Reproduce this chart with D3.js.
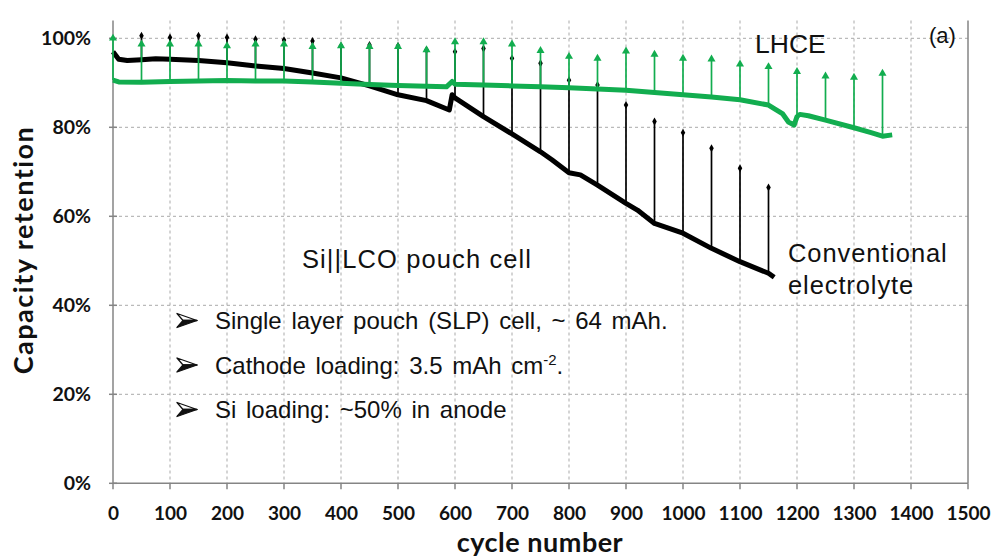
<!DOCTYPE html>
<html>
<head>
<meta charset="utf-8">
<script src="https://cdn.jsdelivr.net/npm/d3@7"></script>
<style>
  body { margin: 0; background: #fff; }
  svg { display: block; }
</style>
</head>
<body>
<svg id="chart" width="993" height="559"></svg>
<script>
// cycle ticks and retention ticks
const xTicks = [0, 100, 200, 300, 400, 500, 600, 700, 800, 900, 1000, 1100, 1200, 1300, 1400, 1500];
const yTicks = [0, 20, 40, 60, 80, 100];

// conventional electrolyte: fading curve [cycle, %]
const convBase = [
  [0, 97.0], [10, 95.3], [25, 95.0], [50, 95.2], [75, 95.4], [100, 95.3], [150, 95.0],
  [200, 94.5], [250, 93.8], [300, 93.2], [350, 92.2], [400, 91.1], [450, 89.3],
  [500, 87.3], [550, 86.0], [590, 83.9], [595, 87.3], [600, 86.6], [650, 82.4],
  [700, 78.5], [750, 74.5], [770, 72.7], [800, 69.8], [820, 69.3], [850, 67.0],
  [900, 62.9], [920, 61.4], [950, 58.4], [1000, 56.2], [1050, 52.8], [1100, 49.8],
  [1150, 47.2], [1160, 46.3]
];
// conventional electrolyte: recovered points after rest
const convPeaks = [
  [50, 100.6], [100, 100.2], [150, 100.6], [200, 100.2], [250, 99.8], [300, 99.6],
  [350, 99.4], [400, 98.3], [450, 98.5], [500, 98.3], [550, 97.4], [600, 97.0],
  [650, 97.7], [700, 95.5], [750, 94.4], [800, 90.6], [850, 89.5], [900, 85.0],
  [950, 81.3], [1000, 78.8], [1050, 75.3], [1100, 70.8], [1150, 66.5]
];

// LHCE: fading curve
const lhceBase = [
  [0, 90.6], [10, 90.2], [50, 90.1], [100, 90.3], [150, 90.4], [200, 90.5], [250, 90.4],
  [300, 90.4], [350, 90.2], [400, 89.9], [450, 89.6], [500, 89.4], [550, 89.2],
  [585, 89.1], [595, 90.3], [600, 89.7], [650, 89.5], [700, 89.3], [750, 89.1], [800, 88.9],
  [850, 88.6], [900, 88.3], [950, 87.8], [1000, 87.3], [1050, 86.8], [1100, 86.2],
  [1150, 85.0], [1175, 83.0], [1185, 81.2], [1195, 80.5], [1200, 82.4], [1205, 82.9],
  [1220, 82.6], [1250, 81.6], [1300, 79.9], [1330, 78.8], [1350, 78.0], [1367, 78.3]
];
// LHCE: recovered points after rest
const lhcePeaks = [
  [0, 100], [50, 98.7], [100, 98.7], [150, 98.7], [200, 98.3], [250, 98.7], [300, 98.7],
  [350, 98.1], [400, 98.3], [450, 98.1], [500, 98.1], [550, 97.4], [600, 99.2],
  [650, 99.2], [700, 98.7], [750, 97.2], [800, 95.9], [850, 95.5], [900, 97.1],
  [950, 96.4], [1000, 95.5], [1050, 95.3], [1100, 94.2], [1150, 93.6], [1200, 92.5],
  [1250, 91.5], [1300, 91.2], [1350, 92.1]
];

const bullets = [
  "Single layer pouch (SLP) cell, ~ 64 mAh.",
  "Cathode loading: 3.5 mAh cm",
  "Si loading: ~50% in anode"
];

const convColor = "#000000";
const lhceColor = "#12ad4f";
const gridColor = "#a9a9a9";
const axisColor = "#858585";
const axisFont = "Lato, 'Open Sans', sans-serif";
const textFont = "'Liberation Sans', Arial, sans-serif";

const svg = d3.select("#chart");
const plotLeft = 113, plotRight = 968, plotBottom = 483.3, plotTop = 20.5;

const x = d3.scaleLinear().domain([0, 1500]).range([plotLeft, plotRight]);
const y = d3.scaleLinear().domain([0, 104]).range([plotBottom, plotTop]);

// gridlines
const grid = svg.append("g");
grid.selectAll("line.v")
  .data(xTicks.filter(d => d > 0 && d < 1500))
  .join("line")
  .attr("x1", d => x(d)).attr("x2", d => x(d))
  .attr("y1", plotTop).attr("y2", plotBottom)
  .attr("stroke", gridColor).attr("stroke-width", 1).attr("stroke-dasharray", "3,3");
grid.selectAll("line.h")
  .data(yTicks.filter(d => d > 0))
  .join("line")
  .attr("x1", plotLeft).attr("x2", plotRight)
  .attr("y1", d => y(d)).attr("y2", d => y(d))
  .attr("stroke", gridColor).attr("stroke-width", 1).attr("stroke-dasharray", "3,3");

// axes
const yAxis = d3.axisLeft(y).tickValues(yTicks).tickSize(0).tickPadding(22)
  .tickFormat(d => d + "%");
const gy = svg.append("g").attr("transform", `translate(${plotLeft},0)`).call(yAxis);
gy.select(".domain").remove();
gy.selectAll("text").attr("font-family", axisFont).attr("font-weight", 700)
  .attr("font-size", 19.5).attr("fill", "#111");

const xAxis = d3.axisBottom(x).tickValues(xTicks).tickSize(0).tickPadding(23)
  .tickFormat(d3.format("d"));
const gx = svg.append("g").attr("transform", `translate(0,${plotBottom})`).call(xAxis);
gx.select(".domain").remove();
gx.selectAll("text").attr("font-family", axisFont).attr("font-weight", 700)
  .attr("font-size", 19).attr("fill", "#111");

// frame: left axis, bottom axis, right border and tick marks
const frame = svg.append("g").attr("stroke", axisColor).attr("stroke-width", 1.5);
frame.append("line").attr("x1", plotLeft).attr("x2", plotLeft).attr("y1", plotTop).attr("y2", plotBottom);
frame.append("line").attr("x1", plotRight).attr("x2", plotRight).attr("y1", plotTop).attr("y2", plotBottom);
frame.append("line").attr("x1", plotLeft).attr("x2", plotRight).attr("y1", plotBottom).attr("y2", plotBottom);
frame.selectAll("line.yt").data(yTicks).join("line")
  .attr("x1", plotLeft - 4).attr("x2", plotLeft + 4)
  .attr("y1", d => y(d)).attr("y2", d => y(d));
frame.selectAll("line.xt").data(xTicks).join("line")
  .attr("x1", d => x(d)).attr("x2", d => x(d))
  .attr("y1", plotBottom).attr("y2", plotBottom + 6);

const line = d3.line().x(d => x(d[0])).y(d => y(d[1]));

function drawSeries(base, peaks, color, marker) {
  const g = svg.append("g");
  g.append("path")
    .datum(base)
    .attr("d", line)
    .attr("fill", "none")
    .attr("stroke", color)
    .attr("stroke-width", 5)
    .attr("stroke-linejoin", "round");

  // spike from curve up to the recovered point
  const baseAt = c => base.find(b => b[0] === c)[1];
  g.selectAll("line.spike")
    .data(peaks)
    .join("line")
    .attr("x1", d => x(d[0])).attr("x2", d => x(d[0]))
    .attr("y1", d => y(baseAt(d[0]))).attr("y2", d => y(d[1]))
    .attr("stroke", color).attr("stroke-width", 1.7);

  g.selectAll("path.mark")
    .data(peaks)
    .join("path")
    .attr("d", d3.symbol().type(marker).size(marker === d3.symbolDiamond ? 18 : 28))
    .attr("transform", d => `translate(${x(d[0])},${y(d[1])})`)
    .attr("fill", color);
}

drawSeries(convBase, convPeaks, convColor, d3.symbolDiamond);
drawSeries(lhceBase, lhcePeaks, lhceColor, d3.symbolTriangle);

// axis titles
svg.append("text")
  .attr("x", 540).attr("y", 552)
  .attr("text-anchor", "middle")
  .attr("font-family", axisFont).attr("font-weight", 700).attr("font-size", 27)
  .attr("letter-spacing", 0.5)
  .attr("fill", "#111")
  .text("cycle number");

svg.append("text")
  .attr("transform", "translate(33,250) rotate(-90)")
  .attr("text-anchor", "middle")
  .attr("font-family", axisFont).attr("font-weight", 700).attr("font-size", 27)
  .attr("letter-spacing", 1.5)
  .attr("fill", "#111")
  .text("Capacity retention");

// annotations
const ann = svg.append("g").attr("font-family", textFont).attr("fill", "#111");
ann.append("text").attr("x", 755).attr("y", 53).attr("font-size", 26.5).text("LHCE");
ann.append("text").attr("x", 929).attr("y", 43).attr("font-size", 22).text("(a)");
ann.append("text").attr("x", 788).attr("y", 262).attr("font-size", 25.5)
  .attr("letter-spacing", 0.9).text("Conventional");
ann.append("text").attr("x", 788).attr("y", 294).attr("font-size", 25.5)
  .attr("letter-spacing", 0.9).text("electrolyte");
ann.append("text").attr("x", 302).attr("y", 268).attr("font-size", 25.5)
  .attr("letter-spacing", 1.1).text("Si||LCO pouch cell");

// 3-D arrowhead bullets: light upper half, dark lower half
const arrowTop = "M0,-7 L20,0 L6,0 Z";
const arrowBottom = "M6,0 L20,0 L0,7 Z";

bullets.forEach((t, i) => {
  const by = 329 + i * 44.5;
  const a = ann.append("g").attr("transform", `translate(177,${by - 8.5})`);
  a.append("path").attr("d", arrowTop).attr("fill", "#fff")
    .attr("stroke", "#111").attr("stroke-width", 1.3).attr("stroke-linejoin", "round");
  a.append("path").attr("d", arrowBottom).attr("fill", "#111")
    .attr("stroke", "#111").attr("stroke-width", 1.3).attr("stroke-linejoin", "round");
  const tx = ann.append("text").attr("x", 215).attr("y", by)
    .attr("font-size", 24).attr("word-spacing", 3).text(t);
  if (i === 1) {
    tx.append("tspan").attr("font-size", 15).attr("dy", -9).text("-2");
    tx.append("tspan").attr("dy", 9).text(".");
  }
});
</script>
</body>
</html>
